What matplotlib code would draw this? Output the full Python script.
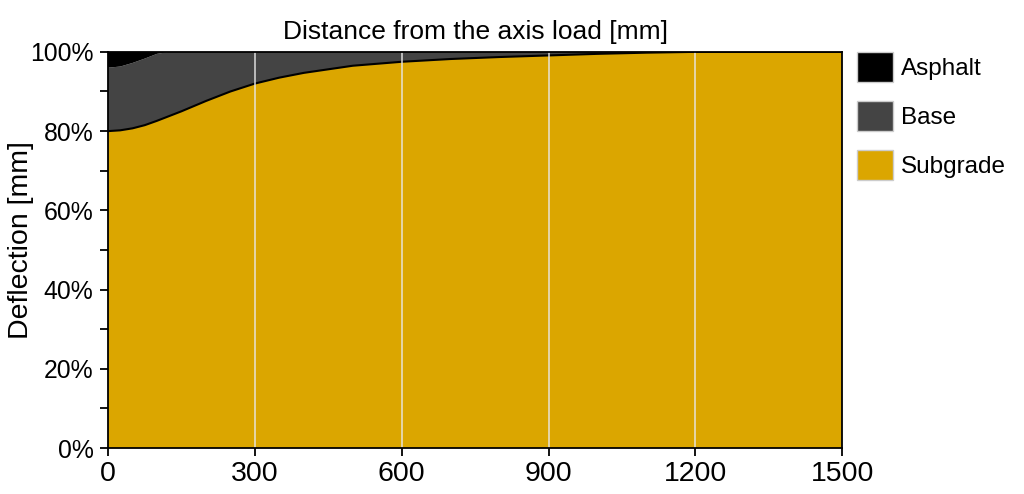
import numpy as np
import matplotlib.pyplot as plt
from matplotlib.patches import Patch
from matplotlib.ticker import MultipleLocator, PercentFormatter

plt.rcParams['font.family'] = ['Liberation Sans', 'DejaVu Sans']

# distance from the axis load [mm]
distance = [0, 25, 50, 75, 100, 125, 150, 200, 250, 300, 350, 400, 500,
            600, 700, 800, 900, 1000, 1100, 1200, 1300, 1400, 1500]
# cumulative share of deflection [%]
subgrade_top = [80.0, 80.2, 80.7, 81.5, 82.6, 83.8, 85.0, 87.6, 90.0, 92.0,
                93.5, 94.7, 96.5, 97.5, 98.2, 98.7, 99.1, 99.5, 99.8, 100,
                100, 100, 100]
base_top = [96.0, 96.3, 97.2, 98.3, 99.5, 100, 100, 100, 100, 100, 100, 100,
            100, 100, 100, 100, 100, 100, 100, 100, 100, 100, 100]

layers = ['Asphalt', 'Base', 'Subgrade']
colors = {'Asphalt': '#000000', 'Base': '#444444', 'Subgrade': '#dba600'}

x = np.array(distance)
sub = np.array(subgrade_top)
base = np.array(base_top) - sub
asph = 100 - np.array(base_top)

fig = plt.figure(figsize=(10.24, 4.94), dpi=100)
ax = fig.add_axes([0.1055, 0.093, 0.717, 0.802])

ax.stackplot(x, sub, base, asph,
             colors=[colors['Subgrade'], colors['Base'], colors['Asphalt']])
ax.plot(x, sub, color='black', lw=1.5)

for gx in [300, 600, 900, 1200]:
    ax.axvline(gx, color='#e8e8e8', lw=1.2, alpha=0.85)

ax.set_xlim(0, 1500)
ax.set_ylim(0, 100)
ax.xaxis.set_major_locator(MultipleLocator(300))
ax.yaxis.set_major_locator(MultipleLocator(20))
ax.yaxis.set_minor_locator(MultipleLocator(10))
ax.yaxis.set_major_formatter(PercentFormatter(decimals=0))
ax.tick_params(axis='x', which='major', labelsize=20.5, length=5.5, width=1.3,
               pad=4)
ax.tick_params(axis='y', which='major', labelsize=17.8, length=5.5, width=1.3,
               pad=5)
ax.tick_params(axis='y', which='minor', length=5.5, width=1.3)
for s in ax.spines.values():
    s.set_linewidth(1.3)
    s.set_color('black')

ax.set_title('Distance from the axis load [mm]', fontsize=19, pad=9)
ax.set_ylabel('Deflection [mm]', fontsize=20.5)
ax.yaxis.set_label_coords(-0.101, 0.525)

handles = [Patch(facecolor=colors[n], edgecolor='#cccccc', label=n) for n in layers]
ax.legend(handles=handles, loc='upper left', bbox_to_anchor=(1.02, 1.0),
          frameon=False, fontsize=17.5, handlelength=1.5, handleheight=1.5,
          labelspacing=0.8, handletextpad=0.3, borderaxespad=0, borderpad=0)

fig.savefig('out.png', dpi=100)
